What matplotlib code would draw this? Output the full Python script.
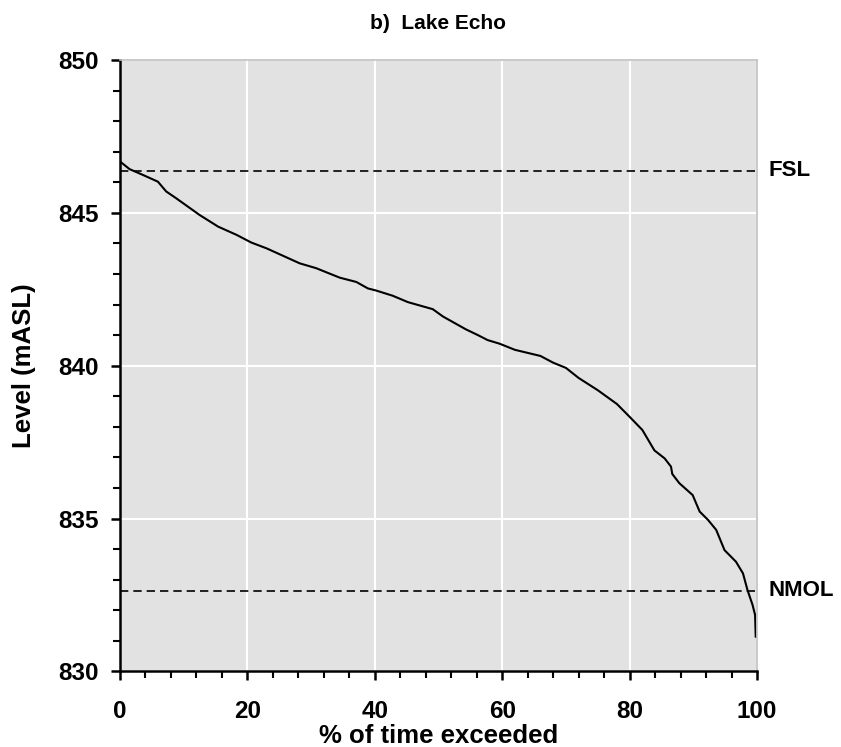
import matplotlib
matplotlib.use("Agg")
import matplotlib.pyplot as plt
from matplotlib.ticker import MultipleLocator

plt.rcParams['font.family'] = ['Liberation Sans', 'DejaVu Sans']
plt.rcParams['font.weight'] = 'bold'

title = "b)  Lake Echo"
x_label = "% of time exceeded"
y_label = "Level (mASL)"

pct_exceeded = [0.0, 1.5, 3.6, 5.95, 7.25, 8.8, 12.5, 15.4, 18.3, 20.6, 23.0, 28.2, 30.8,
                34.5, 37.1, 38.9, 40.2, 42.8, 45.2, 49.1, 50.7, 54.3, 56.2, 57.7, 59.6,
                62.0, 66.0, 68.0, 70.0, 72.0, 75.0, 78.0, 80.0, 82.0, 83.9, 85.5, 86.5,
                86.7, 87.8, 89.9, 91.0, 92.3, 93.6, 94.9, 96.7, 97.8, 98.5, 99.3, 99.7, 99.8]
level = [846.68, 846.43, 846.24, 846.02, 845.70, 845.48, 844.93, 844.55, 844.28, 844.03,
         843.84, 843.35, 843.19, 842.88, 842.74, 842.53, 842.46, 842.29, 842.08, 841.85,
         841.61, 841.19, 841.00, 840.84, 840.72, 840.52, 840.32, 840.10, 839.93, 839.60,
         839.20, 838.75, 838.33, 837.90, 837.23, 836.97, 836.70, 836.46, 836.16, 835.77,
         835.23, 834.96, 834.63, 833.97, 833.59, 833.21, 832.67, 832.18, 831.85, 831.14]

ref_names = ["FSL", "NMOL"]
ref_levels = [846.37, 832.64]

fig = plt.figure(figsize=(8.41, 7.47), dpi=100)
ax = fig.add_axes([0.1427, 0.1011, 0.7574, 0.8186])
ax.set_facecolor('#e2e2e2')

ax.set_xlim(0, 100)
ax.set_ylim(830, 850)
ax.xaxis.set_major_locator(MultipleLocator(20))
ax.xaxis.set_minor_locator(MultipleLocator(4))
ax.yaxis.set_major_locator(MultipleLocator(5))
ax.yaxis.set_minor_locator(MultipleLocator(1))
ax.grid(True, which='major', color='white', linewidth=1.5)
ax.set_axisbelow(True)

for name, val in zip(ref_names, ref_levels):
    ax.axhline(val, color='black', linewidth=1.2, linestyle=(0, (5, 3)))
    ax.annotate(name, xy=(1.0, val), xycoords=('axes fraction', 'data'),
                xytext=(8, 0), textcoords='offset points',
                ha='left', va='center', fontsize=16, fontweight='bold')

ax.plot(pct_exceeded, level, color='black', linewidth=1.5)

for s in ['left', 'bottom']:
    ax.spines[s].set_color('black')
    ax.spines[s].set_linewidth(1.8)
for s in ['top', 'right']:
    ax.spines[s].set_color('#c0c0c0')
    ax.spines[s].set_linewidth(1.2)

ax.tick_params(which='major', direction='out', length=6.5, width=1.8, labelsize=17.5)
ax.tick_params(axis='x', which='major', pad=14)
ax.tick_params(axis='y', which='major', pad=9)
ax.tick_params(which='minor', direction='out', length=5, width=1.5)
for lab in ax.get_xticklabels() + ax.get_yticklabels():
    lab.set_fontweight('bold')

ax.set_title(title, fontsize=15, fontweight='bold', pad=22)
ax.set_xlabel(x_label, fontsize=18.5, fontweight='bold', labelpad=1)
ax.set_ylabel(y_label, fontsize=18.5, fontweight='bold', labelpad=16)

fig.savefig("out.png", dpi=100)
